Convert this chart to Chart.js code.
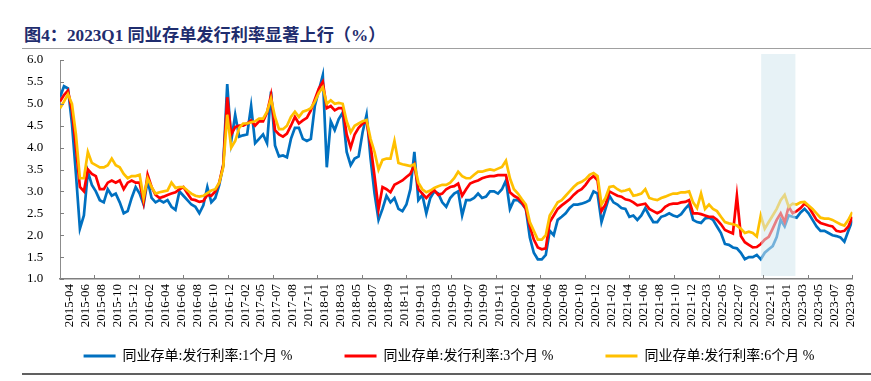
<!DOCTYPE html>
<html><head><meta charset="utf-8">
<script src="https://cdn.jsdelivr.net/npm/chart.js@4.4.1/dist/chart.umd.min.js"></script>
<style>
html,body{margin:0;padding:0;background:#fff;width:871px;height:381px;overflow:hidden;position:relative;}
#title{position:absolute;left:24px;top:25px;font:bold 17.2px "Liberation Serif","Noto Sans CJK SC",serif;color:#1f2d6e;white-space:nowrap;line-height:22px;}
#rule1{position:absolute;left:22px;right:0;top:48px;height:1px;background:#a0a0a0;}
#rule2{position:absolute;left:22px;right:0;top:373px;height:2px;background:#606060;}
#wrap{position:absolute;left:0;top:50px;width:871px;height:331px;}
</style></head><body>
<div id="title">图4：2023Q1 同业存单发行利率显著上行（%）</div>
<div id="rule1"></div>
<div id="wrap"><canvas id="c" width="871" height="331"></canvas></div>
<div id="rule2"></div>
<script>
// ---- data ----
const tickLabels = ['2015-04','2015-06','2015-08','2015-10','2015-12','2016-02','2016-04','2016-06','2016-08','2016-10','2016-12',
'2017-02','2017-05','2017-07','2017-08','2017-11','2018-01','2018-03','2018-05','2018-07','2018-09','2018-11',
'2019-01','2019-03','2019-05','2019-07','2019-09','2019-11','2020-02','2020-04','2020-06','2020-08','2020-10','2020-12',
'2021-02','2021-04','2021-06','2021-08','2021-10','2021-12','2022-03','2022-05','2022-07','2022-09','2022-11',
'2023-01','2023-03','2023-05','2023-07','2023-09'];
const seriesNames = ['同业存单:发行利率:1个月 %','同业存单:发行利率:3个月 %','同业存单:发行利率:6个月 %'];
const rate1m = [
5.15,5.4,5.35,4.55,3.4,2.15,2.45,3.45,3.15,3.0,
2.8,2.75,3.05,2.9,2.95,2.75,2.5,2.55,2.85,3.1,
2.95,2.7,3.25,2.85,2.75,2.8,2.75,2.8,2.65,2.58,
3.0,2.9,2.8,2.7,2.65,2.5,2.68,3.1,2.75,2.85,
3.15,3.6,5.45,4.15,4.75,4.25,4.28,4.3,4.95,4.1,
4.2,4.3,4.1,5.28,4.05,3.8,3.82,3.78,4.2,4.45,
4.45,4.2,4.15,4.2,4.95,5.3,5.65,3.55,4.6,4.4,
4.65,4.8,3.9,3.6,3.75,3.8,4.35,4.75,3.75,2.95,
2.35,2.6,2.9,2.75,2.85,2.6,2.55,2.7,3.05,3.9,
2.8,2.92,2.5,2.85,3.0,2.95,2.75,2.65,2.85,2.95,
3.0,2.45,2.8,2.8,2.85,2.95,2.85,2.88,3.0,3.0,
2.95,3.05,3.25,2.6,2.8,2.8,2.72,2.6,1.95,1.6,
1.45,1.45,1.55,2.1,2.0,2.35,2.42,2.5,2.62,2.7,
2.7,2.72,2.75,2.8,3.0,2.95,2.3,2.6,2.9,2.75,
2.7,2.62,2.6,2.42,2.45,2.35,2.45,2.62,2.45,2.3,
2.3,2.42,2.45,2.5,2.45,2.42,2.48,2.6,2.7,2.35,
2.3,2.28,2.38,2.4,2.35,2.2,2.05,1.8,1.78,1.72,
1.7,1.6,1.45,1.5,1.5,1.55,1.45,1.6,1.68,1.75,
1.96,2.35,2.2,2.45,2.42,2.4,2.52,2.6,2.5,2.35,
2.2,2.1,2.1,2.05,2.0,1.98,1.95,1.85,2.1,2.34];
const rate3m = [
5.05,5.2,5.3,4.85,4.0,3.1,3.0,3.5,3.4,3.35,
3.05,3.05,3.2,3.25,3.2,3.25,3.05,3.2,3.25,3.2,
3.2,2.75,3.38,3.1,2.92,2.85,2.88,2.92,2.95,2.98,
3.05,3.1,2.95,2.82,2.8,2.76,2.78,2.92,2.9,3.0,
3.2,3.6,5.15,4.3,4.47,4.5,4.5,4.55,4.62,4.5,
4.6,4.6,4.8,5.2,4.4,4.3,4.25,4.32,4.5,4.7,
4.55,4.62,4.68,4.85,5.1,5.35,5.5,4.9,4.95,4.85,
4.9,4.9,4.3,4.0,4.3,4.45,4.55,4.6,4.05,3.35,
2.6,3.1,3.05,2.98,3.15,3.2,3.25,3.33,3.4,3.6,
3.05,2.95,2.85,2.95,3.03,2.92,2.95,3.05,3.1,3.12,
3.18,2.9,3.05,3.18,3.22,3.25,3.3,3.33,3.35,3.35,
3.37,3.37,3.37,2.98,2.9,2.85,2.75,2.6,2.2,1.9,
1.72,1.68,1.7,2.3,2.45,2.6,2.68,2.75,2.82,2.92,
3.0,3.05,3.15,3.28,3.35,3.25,2.55,2.7,3.0,2.95,
2.9,2.88,2.82,2.8,2.75,2.68,2.7,2.72,2.6,2.55,
2.5,2.55,2.65,2.7,2.72,2.72,2.75,2.76,2.8,2.5,
2.5,2.48,2.45,2.42,2.42,2.35,2.25,2.12,2.08,2.04,
2.9,1.98,1.84,1.78,1.72,1.73,1.8,1.9,1.96,2.15,
2.35,2.5,2.3,2.65,2.5,2.55,2.62,2.72,2.65,2.5,
2.35,2.28,2.25,2.22,2.2,2.1,2.08,2.1,2.2,2.42];
const rate6m = [
4.9,5.05,5.22,5.0,4.3,3.3,3.3,3.9,3.65,3.6,
3.55,3.55,3.6,3.75,3.6,3.55,3.4,3.3,3.35,3.35,
3.38,2.85,3.3,3.1,2.95,2.98,3.0,3.02,3.2,3.08,
3.1,3.1,3.02,2.95,2.9,2.88,2.9,2.96,3.02,3.05,
3.2,3.55,4.75,4.0,4.15,4.45,4.55,4.55,4.58,4.6,
4.66,4.66,4.82,5.12,4.7,4.42,4.42,4.5,4.7,4.82,
4.7,4.82,4.85,4.9,5.05,5.25,5.38,5.0,5.08,5.0,
5.02,5.0,4.6,4.35,4.5,4.55,4.6,4.63,4.2,3.9,
3.5,3.72,3.75,3.75,4.15,3.65,3.62,3.6,3.58,3.62,
3.2,3.05,2.98,3.02,3.08,3.12,3.15,3.15,3.2,3.3,
3.45,3.35,3.3,3.3,3.38,3.45,3.45,3.48,3.5,3.48,
3.52,3.56,3.7,3.3,3.05,2.95,2.82,2.7,2.3,2.1,
1.9,1.9,2.0,2.45,2.6,2.75,2.8,2.9,3.0,3.1,
3.18,3.22,3.28,3.38,3.42,3.35,2.7,2.85,3.1,3.12,
3.05,3.0,3.02,3.05,2.9,2.92,2.95,3.05,2.85,2.82,
2.8,2.85,2.88,2.92,2.95,2.95,2.98,2.98,3.0,2.75,
2.62,2.95,2.6,2.7,2.6,2.55,2.42,2.3,2.27,2.25,
2.22,2.15,2.05,2.08,2.05,1.97,2.45,2.15,2.3,2.45,
2.6,2.8,2.92,2.65,2.72,2.7,2.75,2.76,2.68,2.6,
2.5,2.4,2.38,2.38,2.35,2.3,2.25,2.22,2.35,2.53];
const seriesColors = ['#0070C0','#FF0000','#FFC000'];
const samplesPerLabel = 4;      // samples between two date labels
const firstLabelSample = 2.5;   // sample index of the first date label
const highlightRange = [176.1, 184.7]; // sample-index span of the 2023Q1 shading
const yMin = 1, yMax = 6, yStep = 0.5;

// ---- chart ----
const toPoints = arr => arr.map((v, i) => ({x: i, y: v}));
const lastIdx = rate1m.length - 1;
const serif = '"Liberation Serif","Times New Roman",serif';

const deco = {
  id: 'deco',
  afterDatasetsDraw(chart) {
    const {ctx, chartArea: a, scales: {x}} = chart;
    const x0 = x.getPixelForValue(highlightRange[0]);
    const x1 = x.getPixelForValue(highlightRange[1]);
    ctx.save();
    ctx.fillStyle = 'rgba(212,231,239,0.55)';
    ctx.fillRect(x0, a.top - 6, x1 - x0, (a.bottom - 3) - (a.top - 6));
    ctx.restore();
  },
  afterDraw(chart) {
    const {ctx, chartArea: a, scales: {x, y}} = chart;
    ctx.save();
    ctx.strokeStyle = '#7f7f7f';
    ctx.lineWidth = 1;
    for (let v = yMin; v <= yMax + 1e-9; v += yStep) {
      const py = Math.round(y.getPixelForValue(v)) + 0.5;
      ctx.beginPath(); ctx.moveTo(a.left, py); ctx.lineTo(a.left + 4, py); ctx.stroke();
    }
    const tickGap = 2.8 * samplesPerLabel;
    for (let k = 0; k <= 17; k++) {
      const px = Math.round(x.getPixelForValue(lastIdx - k * tickGap)) + 0.5;
      ctx.beginPath(); ctx.moveTo(px, a.bottom); ctx.lineTo(px, a.bottom - 4); ctx.stroke();
    }
    ctx.restore();
  }
};

new Chart(document.getElementById('c'), {
  type: 'line',
  data: {
    datasets: [rate1m, rate3m, rate6m].map((arr, i) => ({
      label: seriesNames[i],
      data: toPoints(arr),
      borderColor: seriesColors[i],
      backgroundColor: seriesColors[i],
      borderWidth: 2.7,
      pointRadius: 0,
      tension: 0,
      order: 2 - i
    }))
  },
  options: {
    responsive: false,
    animation: false,
    layout: {padding: {left: 27, right: 0, top: 10, bottom: 8}},
    plugins: {
      tooltip: {enabled: false},
      legend: {
        position: 'bottom',
        title: {display: true, text: '', font: {size: 10}, padding: -23},
        labels: {
          boxWidth: 32, boxHeight: 3, padding: 52, color: '#000',
          font: {family: '"Liberation Serif","Noto Sans CJK SC",serif', size: 14},
          sort: (a, b) => a.datasetIndex - b.datasetIndex,
          generateLabels: chart => Chart.defaults.plugins.legend.labels.generateLabels(chart).map(l => ({...l, lineWidth: 0}))
        }
      }
    },
    scales: {
      x: {
        type: 'linear', min: 0, max: lastIdx,
        grid: {display: false, drawTicks: false},
        border: {display: true, color: '#7f7f7f', width: 1.5},
        afterBuildTicks: s => { s.ticks = tickLabels.map((_, i) => ({value: firstLabelSample + samplesPerLabel * i})); },
        afterFit: s => { s.height = 52; },
        ticks: {
          autoSkip: false, maxRotation: 90, minRotation: 90, padding: 5, color: '#000',
          font: {family: serif, size: 13},
          callback: (v, i) => tickLabels[i]
        }
      },
      y: {
        min: yMin, max: yMax,
        grid: {display: false, drawTicks: false},
        border: {display: true, color: '#8c8c8c', width: 1},
        afterFit: s => { s.width = 33; },
        ticks: {
          stepSize: yStep, padding: 0, crossAlign: 'far', color: '#000',
          font: {family: serif, size: 13},
          callback: v => v.toFixed(1)
        }
      },
      yPad: {
        position: 'right', min: yMin, max: yMax,
        grid: {display: false, drawTicks: false},
        border: {display: false},
        ticks: {display: false},
        afterFit: s => { s.width = 16; }
      }
    }
  },
  plugins: [deco]
});
</script>
</body></html>
